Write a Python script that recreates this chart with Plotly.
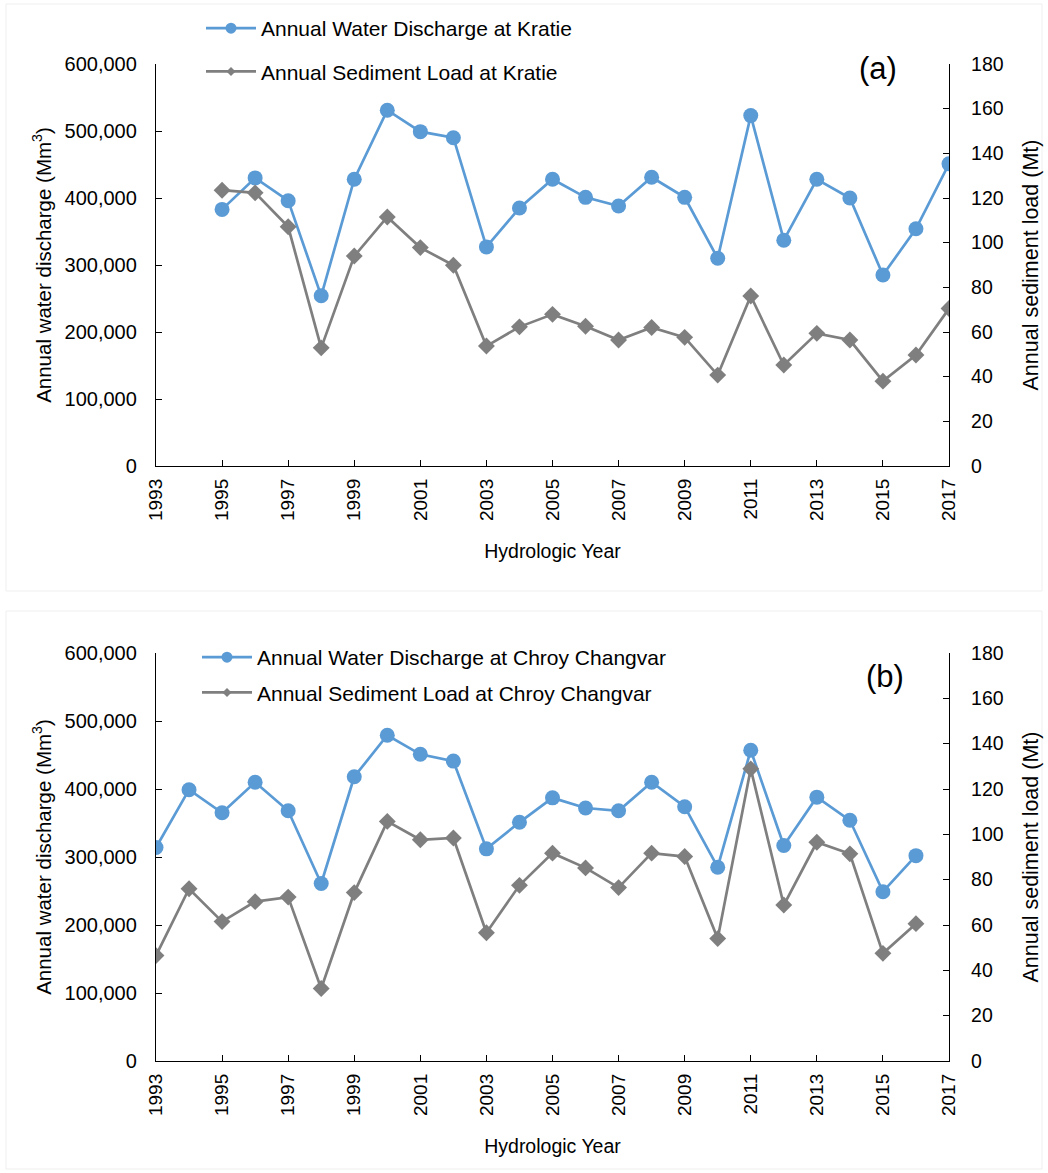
import plotly.graph_objects as go

# Hydrologic years
years_kratie = list(range(1995, 2018))
years_chroy = list(range(1993, 2017))

# Kratie: annual water discharge (Mm3) and sediment load (Mt)
kratie_discharge = [383000, 430000, 396000, 254000, 428000, 531000, 499000, 490000,
                    327000, 385000, 428000, 401000, 388000, 431000, 401000, 310000,
                    523000, 337000, 428000, 400000, 285000, 354000, 451000]
kratie_sediment = [123.5, 122.3, 107.1, 52.9, 94.0, 111.5, 97.8, 89.9,
                   53.7, 62.3, 67.9, 62.6, 56.4, 62.0, 57.6, 40.7,
                   76.1, 45.2, 59.4, 56.4, 38.0, 49.7, 70.5]

# Chroy Changvar: annual water discharge (Mm3) and sediment load (Mt)
chroy_discharge = [314000, 399000, 365000, 410000, 368000, 261000, 418000, 479000,
                   451000, 441000, 312000, 351000, 387000, 372000, 368000, 410000,
                   374000, 285000, 457000, 317000, 388000, 354000, 249000, 302000]
chroy_sediment = [46.5, 76.0, 61.5, 70.3, 72.3, 32.0, 74.3, 105.7,
                  97.6, 98.4, 56.6, 77.5, 91.7, 85.2, 76.5, 91.7,
                  90.2, 54.0, 128.9, 68.8, 96.5, 91.4, 47.5, 60.6]

x_ticks = list(range(1993, 2018, 2))
q_ticks = [0, 100000, 200000, 300000, 400000, 500000, 600000]
q_tick_text = ["0", "100,000", "200,000", "300,000", "400,000", "500,000", "600,000"]
s_ticks = list(range(0, 181, 20))

BLUE = "#5B9BD5"
GRAY = "#7F7F7F"
FONT = "Liberation Sans, Arial, sans-serif"
W, H = 1048, 1173

# plot-area pixel boxes -> paper domains
x_dom = [156 / W, 949 / W]
top_dom = [1 - 466 / H, 1 - 64 / H]
bot_dom = [1 - 1061 / H, 1 - 653 / H]

fig = go.Figure()

def add_pair(years, q, s, xa, ya_left, ya_right, station, legend_name):
    q_name = f"Annual Water Discharge at {station}"
    s_name = f"Annual Sediment Load at {station}"
    fig.add_trace(go.Scatter(
        x=years, y=q, name=q_name, showlegend=False,
        mode="lines+markers", line=dict(color=BLUE, width=2.7),
        marker=dict(symbol="circle", size=15, color=BLUE),
        xaxis=xa, yaxis=ya_left, legendgroup=f"q_{station}"))
    fig.add_trace(go.Scatter(
        x=years, y=s, name=s_name, showlegend=False,
        mode="lines+markers", line=dict(color=GRAY, width=2.7),
        marker=dict(symbol="diamond", size=13, color=GRAY),
        xaxis=xa, yaxis=ya_right, legendgroup=f"s_{station}"))
    # legend keys with the smaller symbols
    fig.add_trace(go.Scatter(
        x=[None], y=[None], name=q_name, mode="lines+markers",
        line=dict(color=BLUE, width=2.7), marker=dict(symbol="circle", size=11, color=BLUE),
        xaxis=xa, yaxis=ya_left, legend=legend_name, legendgroup=f"q_{station}"))
    fig.add_trace(go.Scatter(
        x=[None], y=[None], name=s_name, mode="lines+markers",
        line=dict(color=GRAY, width=2.7), marker=dict(symbol="diamond", size=7, color=GRAY),
        xaxis=xa, yaxis=ya_right, legend=legend_name, legendgroup=f"s_{station}"))

add_pair(years_kratie, kratie_discharge, kratie_sediment, "x", "y", "y2", "Kratie", "legend")
add_pair(years_chroy, chroy_discharge, chroy_sediment, "x2", "y3", "y4", "Chroy Changvar", "legend2")

tick_style = dict(ticks="inside", ticklen=6, tickcolor="#000", tickwidth=1.3,
                  showline=True, linecolor="#000", linewidth=1.3,
                  showgrid=False, zeroline=False, automargin=False)

common_x = dict(tick_style, range=[1993, 2017], tickvals=x_ticks, tickangle=-90,
                tickfont=dict(family=FONT, size=19, color="#000"),
                ticklabelstandoff=4, domain=x_dom,
                title=dict(text="Hydrologic Year",
                           font=dict(family=FONT, size=19.5, color="#000"), standoff=24))
common_q = dict(tick_style, range=[0, 600000], tickvals=q_ticks, ticktext=q_tick_text,
                tickfont=dict(family=FONT, size=20, color="#000"),
                ticklabelstandoff=14,
                title=dict(text="Annual water discharge (Mm<sup>3</sup>)",
                           font=dict(family=FONT, size=20.5, color="#000"), standoff=7))
common_s = dict(tick_style, range=[0, 180], tickvals=s_ticks, side="right",
                tickfont=dict(family=FONT, size=19.5, color="#000"),
                ticklabelstandoff=17,
                title=dict(text="Annual sediment load (Mt)",
                           font=dict(family=FONT, size=21.5, color="#000"), standoff=20))

fig.update_layout(
    width=W, height=H,
    margin=dict(l=0, r=0, t=0, b=0, autoexpand=False),
    paper_bgcolor="white", plot_bgcolor="white",
    font=dict(family=FONT, size=19, color="#000"),
    xaxis=dict(common_x, anchor="y"),
    yaxis=dict(common_q, domain=top_dom, anchor="x"),
    yaxis2=dict(common_s, domain=top_dom, anchor="x", overlaying="y"),
    xaxis2=dict(common_x, anchor="y3"),
    yaxis3=dict(common_q, domain=bot_dom, anchor="x2"),
    yaxis4=dict(common_s, domain=bot_dom, anchor="x2", overlaying="y3"),
    legend=dict(x=201 / W, y=1 - 8 / H, xanchor="left", yanchor="top",
                bgcolor="rgba(0,0,0,0)", font=dict(family=FONT, size=21),
                tracegroupgap=13, itemwidth=50),
    legend2=dict(x=197 / W, y=1 - 637 / H, xanchor="left", yanchor="top",
                 bgcolor="rgba(0,0,0,0)", font=dict(family=FONT, size=21),
                 tracegroupgap=5, itemwidth=50),
)

# panel labels
fig.add_annotation(text="(a)", x=878 / W, y=1 - 68 / H, xref="paper", yref="paper",
                   xanchor="center", yanchor="middle",
                   showarrow=False, font=dict(family=FONT, size=31, color="#000"))
fig.add_annotation(text="(b)", x=885 / W, y=1 - 676 / H, xref="paper", yref="paper",
                   xanchor="center", yanchor="middle",
                   showarrow=False, font=dict(family=FONT, size=31, color="#000"))

# faint panel frames
for y0, y1 in [(4, 591), (611, 1169)]:
    fig.add_shape(type="rect", xref="paper", yref="paper",
                  x0=6 / W, x1=1042 / W, y0=1 - y1 / H, y1=1 - y0 / H,
                  line=dict(color="#EFEFEF", width=1), fillcolor="rgba(0,0,0,0)",
                  layer="below")

fig.write_html("out.html")
